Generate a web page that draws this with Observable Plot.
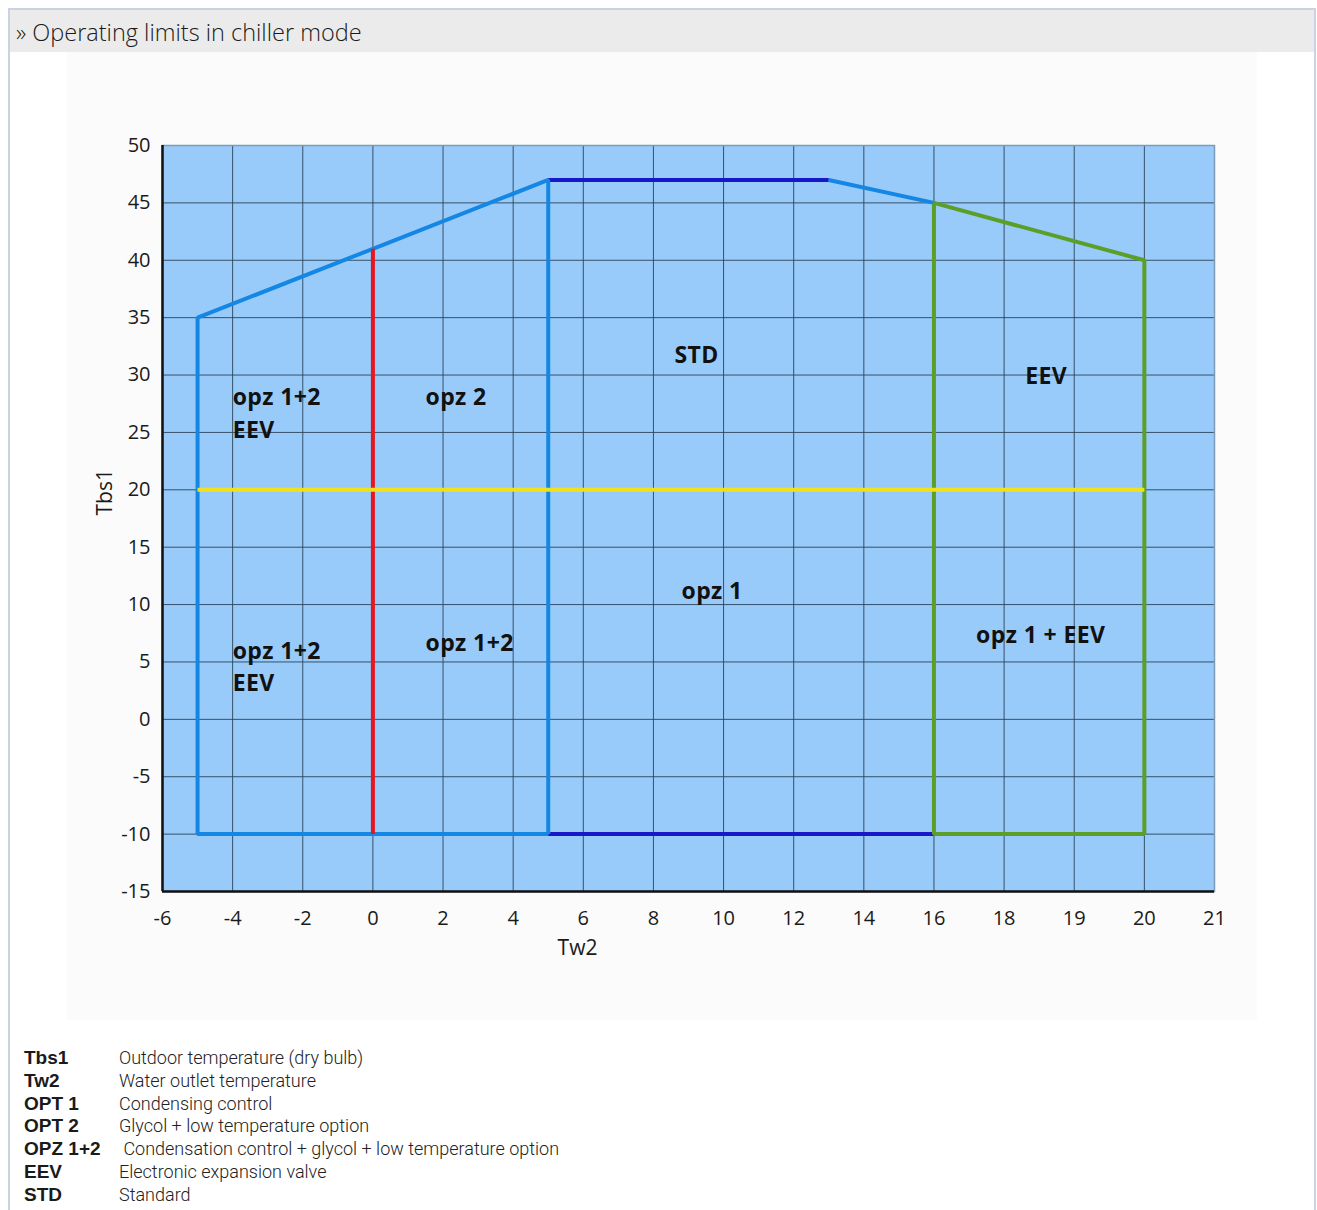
<!DOCTYPE html>
<html>
<head>
<meta charset="utf-8">
<script src="https://cdn.jsdelivr.net/npm/d3@7"></script>
<script src="https://cdn.jsdelivr.net/npm/@observablehq/plot@0.6"></script>
<style>
  html, body { margin: 0; padding: 0; background: #fff; }
  body { width: 1317px; height: 1210px; position: relative; overflow: hidden; font-family: "Open Sans", sans-serif; }
  #frame { position: absolute; left: 8px; top: 8px; width: 1308px; height: 1240px; border: 2px solid #cdd1e6; box-sizing: border-box; }
  #header { position: absolute; left: 10px; top: 10px; width: 1304px; height: 42px; background: #ebebeb; }
  #title { position: absolute; left: 16px; top: 21px; font-size: 23.5px; line-height: 23.5px; color: #1a1a1a; font-weight: 300; white-space: pre; }
  #chartbg { position: absolute; left: 67px; top: 52px; width: 1190px; height: 968px; background: #fbfbfb; }
  #chart { position: absolute; left: 0; top: 60px; }
  #legend { position: absolute; left: 24px; top: 1047px; color: #1a1a1a; }
  .row { position: relative; height: 22.8px; white-space: pre; }
  .term, .desc { position: absolute; top: 0; display: inline-block; height: 21px; line-height: 22px; overflow: visible; }
  .term { left: 0; font-weight: 700; font-family: "Liberation Sans", Arial, sans-serif; font-size: 19px; }
  .desc { left: 95px; font-family: Roboto, sans-serif; font-weight: 300; font-size: 18px; color: #222; }
  .zone text { letter-spacing: 0.4px; }
</style>
</head>
<body>
<div id="chartbg"></div>
<div id="frame"></div>
<div id="header"></div>
<div id="title">» Operating limits in chiller mode</div>
<div id="chart"></div>
<div id="legend"></div>
<script>
// ---- Axis ticks (Tw2 axis is drawn with equally spaced tick labels) ----
const xTicks = [-6, -4, -2, 0, 2, 4, 6, 8, 10, 12, 14, 16, 18, 19, 20, 21];
const yTicks = [-15, -10, -5, 0, 5, 10, 15, 20, 25, 30, 35, 40, 45, 50];

// ---- Operating-limit boundary lines: [Tw2, Tbs1] ----
const envelopeLeft  = [[5, -10], [-5, -10], [-5, 35], [0, 41], [5, 47], [5, -10]];
const slopeRight    = [[13, 47], [16, 45]];
const stdTop        = [[5, 47], [13, 47]];
const stdBottom     = [[5, -10], [16, -10]];
const opz2Divider   = [[0, 41], [0, -10]];
const eevZone       = [[16, 45], [20, 40], [20, -10], [16, -10], [16, 45]];
const tbs20Line     = [[-5, 20], [20, 20]];

// ---- Zone labels ----
const labelText = ["opz 1+2", "EEV", "opz 2", "STD", "EEV", "opz 1", "opz 1+2", "opz 1+2", "EEV", "opz 1 + EEV"];
const labelTw2  = [-4, -4, 1.5, 8.6, 18.3, 8.8, 1.5, -4, -4, 17.2];
const labelTbs1 = [28.0, 25.2, 28.0, 31.7, 29.9, 11.1, 6.6, 5.9, 3.1, 7.3];

// ---- Legend ----
const legendTerms = ["Tbs1", "Tw2", "OPT 1", "OPT 2", "OPZ 1+2", "EEV", "STD"];
const legendDescs = ["Outdoor temperature (dry bulb)", "Water outlet temperature", "Condensing control",
  "Glycol + low temperature option", " Condensation control + glycol + low temperature option",
  "Electronic expansion valve", "Standard"];

const rows = (pts, seg) => pts.map(([tw2, tbs1]) => ({tw2, tbs1, seg}));
const labels = labelText.map((t, i) => ({t, tw2: labelTw2[i], tbs1: labelTbs1[i]}));

const W = 1317, H = 960, mL = 162, mR = 103, mT = 85, mB = 129;
const xRange = xTicks.map((_, i) => mL + i * (W - mL - mR) / (xTicks.length - 1));
const FONT = "'Open Sans', sans-serif";

const lineOpts = (stroke) => ({x: "tw2", y: "tbs1", z: "seg", stroke, strokeWidth: 4, strokeLinejoin: "miter", strokeLinecap: "butt"});

const chart = Plot.plot({
  width: W, height: H,
  marginLeft: mL, marginRight: mR, marginTop: mT, marginBottom: mB,
  style: {background: "transparent", fontFamily: FONT, fontSize: "20px", color: "#1a1a1a", overflow: "visible"},
  x: {type: "linear", domain: xTicks, range: xRange},
  y: {type: "linear", domain: [-15, 50]},
  marks: [
    Plot.frame({fill: "#99cbfa"}),
    Plot.gridX(xTicks, {stroke: "#2b4258", strokeOpacity: 0.9, strokeWidth: 1}),
    Plot.gridY(yTicks, {stroke: "#2b4258", strokeOpacity: 0.9, strokeWidth: 1}),
    Plot.frame({stroke: "#7e9bb8", strokeWidth: 1.5}),
    Plot.line(rows(stdTop, "a").concat(rows(stdBottom, "b")), lineOpts("#1818c8")),
    Plot.line(rows(envelopeLeft, "a").concat(rows(slopeRight, "b")), lineOpts("#1487e4")),
    Plot.line(rows(eevZone, "a"), lineOpts("#5b9f29")),
    Plot.line(rows(opz2Divider, "a"), lineOpts("#e4171f")),
    Plot.line(rows(tbs20Line, "a"), lineOpts("#efe21c")),
    Plot.ruleX([-6], {stroke: "#111", strokeWidth: 2.5}),
    Plot.ruleY([-15], {stroke: "#111", strokeWidth: 2.5}),
    Plot.axisX(xTicks, {tickSize: 0, tickPadding: 19, fontSize: 20, label: null, tickFormat: d => String(d)}),
    Plot.axisY(yTicks, {tickSize: 0, tickPadding: 12, fontSize: 20, label: null, tickFormat: d => String(d)}),
    Plot.text(labels, {x: "tw2", y: "tbs1", text: "t", textAnchor: "start", fontSize: 23, fontWeight: 700, fill: "#111", fontFamily: FONT, className: "zone"}),
    Plot.text(["Tw2"], {frameAnchor: "bottom", dx: -111, dy: 63, fontSize: 21, fill: "#1a1a1a", fontFamily: FONT}),
    Plot.text(["Tbs1"], {frameAnchor: "left", dx: -57, dy: -3, rotate: -90, fontSize: 21, fill: "#1a1a1a", fontFamily: FONT})
  ]
});
document.getElementById("chart").append(chart);

const legend = document.getElementById("legend");
legendTerms.forEach((t, i) => {
  const r = document.createElement("div");
  r.className = "row";
  r.innerHTML = `<span class="term"></span><span class="desc"></span>`;
  r.querySelector(".term").textContent = t;
  r.querySelector(".desc").textContent = legendDescs[i];
  legend.append(r);
});
</script>
</body>
</html>
